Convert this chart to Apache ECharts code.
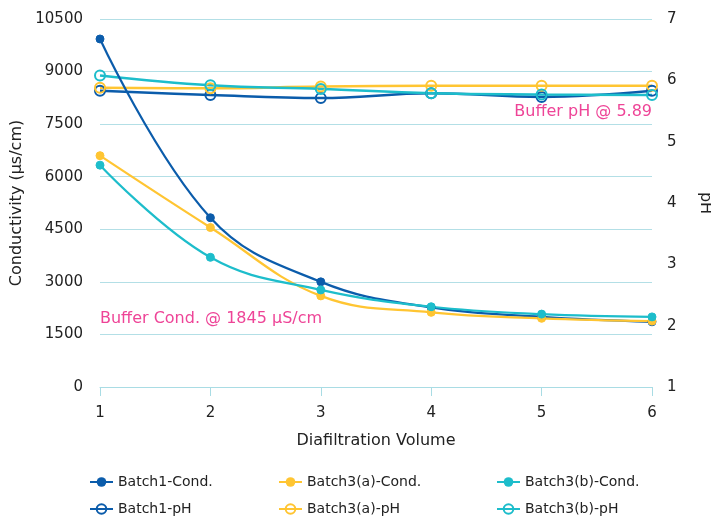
<!DOCTYPE html>
<html><head><meta charset="utf-8">
<script src="https://cdn.jsdelivr.net/npm/echarts@6/dist/echarts.min.js"></script>
<style>html,body{margin:0;padding:0;background:#fff}#c{width:711px;height:516px}</style>
</head><body><div id="c"></div>
<script>
const categories = ['1','2','3','4','5','6'];
const batch1Cond = [9930, 4830, 3000, 2270, 2000, 1860];
const batch3aCond = [6600, 4550, 2600, 2130, 1960, 1880];
const batch3bCond = [6330, 3700, 2770, 2290, 2080, 2000];
const batch1pH = [5.83, 5.76, 5.71, 5.79, 5.73, 5.83];
const batch3apH = [5.88, 5.87, 5.90, 5.91, 5.91, 5.91];
const batch3bpH = [6.08, 5.92, 5.86, 5.79, 5.77, 5.76];
const leftTicks = {min: 0, max: 10500, interval: 1500};
const rightTicks = {min: 1, max: 7, interval: 1};

const C1 = '#0B5CAB', C2 = '#FFC532', C3 = '#1DBDCB';
const font = '"DejaVu Sans", Verdana, sans-serif';
const chart = echarts.init(document.getElementById('c'));

function condSeries(name, data, color) {
  return {name, type: 'line', yAxisIndex: 0, data, smooth: 0.4,
    symbol: 'circle', symbolSize: 8, lineStyle: {color, width: 2.2},
    itemStyle: {color, borderColor: color}, z: 3};
}
function phSeries(name, data, color) {
  return {name, type: 'line', yAxisIndex: 1, data, smooth: 0.4,
    symbol: 'circle', symbolSize: 10, lineStyle: {color, width: 2.5},
    itemStyle: {color: 'rgba(255,255,255,0)', borderColor: color, borderWidth: 2}, z: 2};
}
const names = ['Batch1-Cond.', 'Batch3(a)-Cond.', 'Batch3(b)-Cond.', 'Batch1-pH', 'Batch3(a)-pH', 'Batch3(b)-pH'];
const legLeft = [84, 273, 491];
const legends = names.map((n, i) => ({
  data: [n], left: legLeft[i % 3], top: i < 3 ? 470 : 497,
  itemWidth: 23, itemHeight: 12,
  textStyle: {fontFamily: font, fontSize: 14, color: '#222'}
}));

chart.setOption({
  animation: false,
  backgroundColor: '#fff',
  textStyle: {fontFamily: font},
  legend: legends,
  grid: {left: 100, right: 59, top: 19, bottom: 129, containLabel: false, outerBoundsMode: 'none'},
  xAxis: {
    type: 'category', data: categories, boundaryGap: false,
    name: 'Diafiltration Volume', nameLocation: 'middle', nameGap: 46,
    nameTextStyle: {fontFamily: font, fontSize: 16, color: '#222'},
    axisLine: {lineStyle: {color: '#A9DCE4', width: 1}},
    axisTick: {show: true, length: 9, lineStyle: {color: '#A9DCE4'}},
    axisLabel: {fontFamily: font, fontSize: 15, color: '#222', margin: 19}
  },
  yAxis: [{
    type: 'value', min: leftTicks.min, max: leftTicks.max, interval: leftTicks.interval,
    name: 'Conductivity (µs/cm)', nameLocation: 'middle', nameGap: 72, nameRotate: 90,
    nameTextStyle: {fontFamily: font, fontSize: 16, color: '#222'},
    axisLine: {show: false}, axisTick: {show: false},
    axisLabel: {fontFamily: font, fontSize: 15, color: '#222', margin: 17,
      formatter: v => String(v)},
    splitLine: {lineStyle: {color: '#B3DFE6', width: 1}}
  }, {
    type: 'value', min: rightTicks.min, max: rightTicks.max, interval: rightTicks.interval,
    name: 'pH', nameLocation: 'middle', nameGap: 45, nameRotate: -90,
    nameTextStyle: {fontFamily: font, fontSize: 16, color: '#222'},
    axisLine: {show: false}, axisTick: {show: false},
    axisLabel: {fontFamily: font, fontSize: 15, color: '#222', margin: 15},
    splitLine: {show: false}
  }],
  series: [
    condSeries(names[0], batch1Cond, C1),
    condSeries(names[1], batch3aCond, C2),
    condSeries(names[2], batch3bCond, C3),
    phSeries(names[3], batch1pH, C1),
    phSeries(names[4], batch3apH, C2),
    phSeries(names[5], batch3bpH, C3)
  ],
  graphic: [
    {type: 'text', right: 59, top: 104, style: {text: 'Buffer pH @ 5.89', fill: '#EE4497', font: '16px ' + font}},
    {type: 'text', left: 100, top: 311, style: {text: 'Buffer Cond. @ 1845 µS/cm', fill: '#EE4497', font: '16px ' + font}}
  ]
});
</script></body></html>
